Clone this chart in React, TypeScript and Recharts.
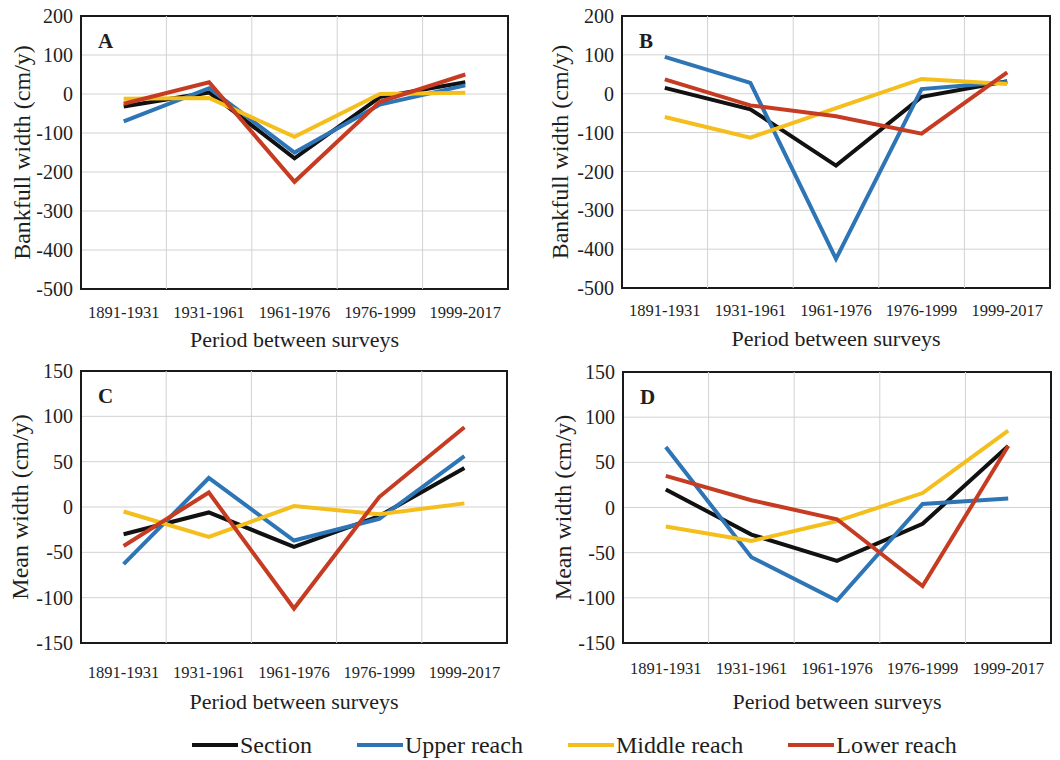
import { LineChart, Line, XAxis, YAxis, CartesianGrid, ReferenceLine, ReferenceArea } from 'recharts';

const PERIODS = ['1891-1931', '1931-1961', '1961-1976', '1976-1999', '1999-2017'];

// Bankfull width change rate (cm/y)
const bankfullSectionA = [-32, 4, -165, -8, 30];
const bankfullUpperA = [-70, 15, -150, -27, 22];
const bankfullMiddleA = [-12, -10, -110, 0, 3];
const bankfullLowerA = [-25, 30, -225, -20, 50];

const bankfullSectionB = [15, -40, -185, -8, 32];
const bankfullUpperB = [95, 28, -425, 12, 30];
const bankfullMiddleB = [-60, -113, -37, 38, 25];
const bankfullLowerB = [37, -30, -58, -103, 55];

// Mean width change rate (cm/y)
const meanSectionC = [-30, -6, -44, -10, 43];
const meanUpperC = [-63, 32, -37, -13, 56];
const meanMiddleC = [-5, -33, 1, -8, 4];
const meanLowerC = [-43, 16, -112, 11, 88];

const meanSectionD = [20, -30, -59, -18, 68];
const meanUpperD = [67, -55, -103, 4, 10];
const meanMiddleD = [-21, -37, -15, 16, 85];
const meanLowerD = [35, 8, -13, -87, 68];

const BANKFULL_TICKS = [-500, -400, -300, -200, -100, 0, 100, 200];
const MEAN_TICKS = [-150, -100, -50, 0, 50, 100, 150];

const SERIES = [
    { key: 'section', name: 'Section', color: '#111111' },
    { key: 'upper', name: 'Upper reach', color: '#2e75b6' },
    { key: 'middle', name: 'Middle reach', color: '#f4be1c' },
    { key: 'lower', name: 'Lower reach', color: '#c63c22' },
];

const FONT = '"Liberation Serif", "Times New Roman", serif';
const GRID = '#d2d2d2';
const TEXT = '#1e1e1e';

// category boundaries sit halfway between the periods
const BOUNDARIES = PERIODS.slice(1).map((_, i) => i + 0.5);

function buildRows(section: number[], upper: number[], middle: number[], lower: number[]) {
    return PERIODS.map((period, idx) => ({
        idx,
        period,
        section: section[idx],
        upper: upper[idx],
        middle: middle[idx],
        lower: lower[idx],
    }));
}

interface PanelProps {
    letter: string;
    rows: any[];
    yTitle: string;
    yTicks: number[];
    left: number;
    top: number;
    height: number;
    margin: { top: number; right: number; bottom: number; left: number };
    yAxisWidth: number;
    yTitleOffset: number;
    xAxisHeight: number;
    xTickGap: number;
}

function Panel({ letter, rows, yTitle, yTicks, left, top, height, margin, yAxisWidth, yTitleOffset, xAxisHeight, xTickGap }: PanelProps) {
    const yMin = yTicks[0];
    const yMax = yTicks[yTicks.length - 1];

    return (
        <div style={{ position: 'absolute', left, top }}>
            <LineChart width={530} height={height} data={rows} margin={margin}>
                <CartesianGrid vertical={false} stroke={GRID} strokeWidth={1} />
                {BOUNDARIES.map((b) => (
                    <ReferenceLine key={b} x={b} stroke={GRID} strokeWidth={1} />
                ))}
                <XAxis
                    type="number"
                    dataKey="idx"
                    domain={[-0.5, 4.5]}
                    ticks={[0, 1, 2, 3, 4]}
                    interval={0}
                    tickFormatter={(v: number) => PERIODS[v]}
                    axisLine={false}
                    tickLine={false}
                    tickSize={0}
                    tickMargin={xTickGap}
                    height={xAxisHeight}
                    tick={{ fontSize: 16.5, fill: TEXT, fontFamily: FONT }}
                    label={{
                        value: 'Period between surveys',
                        position: 'insideBottom',
                        offset: 2,
                        fontSize: 22,
                        fill: TEXT,
                        fontFamily: FONT,
                    }}
                />
                <YAxis
                    type="number"
                    domain={[yMin, yMax]}
                    ticks={yTicks}
                    interval={0}
                    axisLine={false}
                    tickLine={false}
                    tickSize={0}
                    tickMargin={8}
                    width={yAxisWidth}
                    tick={{ fontSize: 20, fill: TEXT, fontFamily: FONT }}
                    label={{
                        value: yTitle,
                        angle: -90,
                        position: 'insideLeft',
                        offset: yTitleOffset,
                        fontSize: 24,
                        fill: TEXT,
                        fontFamily: FONT,
                        style: { textAnchor: 'middle' },
                    }}
                />
                {SERIES.map((s) => (
                    <Line
                        key={s.key}
                        type="linear"
                        dataKey={s.key}
                        name={s.name}
                        stroke={s.color}
                        strokeWidth={4}
                        dot={false}
                        activeDot={false}
                        isAnimationActive={false}
                    />
                ))}
                {/* plot frame with the panel letter */}
                <ReferenceArea
                    x1={-0.5}
                    x2={4.5}
                    y1={yMin}
                    y2={yMax}
                    fill="none"
                    fillOpacity={0}
                    stroke="#1a1a1a"
                    strokeWidth={2}
                    label={{
                        value: letter,
                        position: 'insideTopLeft',
                        offset: 17,
                        fontSize: 21,
                        fontWeight: 'bold',
                        fill: TEXT,
                        fontFamily: FONT,
                    }}
                />
            </LineChart>
        </div>
    );
}

function LegendRow() {
    return (
        <div
            style={{
                position: 'absolute',
                left: 0,
                top: 731,
                width: 1060,
                display: 'flex',
                alignItems: 'center',
                gap: 45,
                paddingLeft: 192,
                boxSizing: 'border-box',
                fontFamily: FONT,
                fontSize: 24,
                color: TEXT,
                lineHeight: '28px',
            }}
        >
            {SERIES.map((s) => (
                <div key={s.key} style={{ display: 'flex', alignItems: 'center' }}>
                    <svg width={46} height={6} style={{ marginRight: 2 }}>
                        <line x1={0} y1={3} x2={46} y2={3} stroke={s.color} strokeWidth={4} />
                    </svg>
                    <span>{s.name}</span>
                </div>
            ))}
        </div>
    );
}

export default function App() {
    const rowsA = buildRows(bankfullSectionA, bankfullUpperA, bankfullMiddleA, bankfullLowerA);
    const rowsB = buildRows(bankfullSectionB, bankfullUpperB, bankfullMiddleB, bankfullLowerB);
    const rowsC = buildRows(meanSectionC, meanUpperC, meanMiddleC, meanLowerC);
    const rowsD = buildRows(meanSectionD, meanUpperD, meanMiddleD, meanLowerD);

    return (
        <div style={{ position: 'absolute', left: 0, top: 0, width: 1060, height: 760, background: '#fff', fontFamily: FONT }}>
            <Panel
                letter="A"
                rows={rowsA}
                yTitle="Bankfull width (cm/y)"
                yTicks={BANKFULL_TICKS}
                left={0}
                top={0}
                height={355}
                margin={{ top: 16, right: 22, bottom: 6, left: 0 }}
                yAxisWidth={81}
                yTitleOffset={21}
                xAxisHeight={60}
                xTickGap={17}
            />
            <Panel
                letter="B"
                rows={rowsB}
                yTitle="Bankfull width (cm/y)"
                yTicks={BANKFULL_TICKS}
                left={530}
                top={0}
                height={355}
                margin={{ top: 16, right: 10, bottom: 7, left: 0 }}
                yAxisWidth={92}
                yTitleOffset={29}
                xAxisHeight={60}
                xTickGap={16}
            />
            <Panel
                letter="C"
                rows={rowsC}
                yTitle="Mean width (cm/y)"
                yTicks={MEAN_TICKS}
                left={0}
                top={355}
                height={360}
                margin={{ top: 16, right: 23, bottom: 4, left: 0 }}
                yAxisWidth={81}
                yTitleOffset={19}
                xAxisHeight={68}
                xTickGap={23}
            />
            <Panel
                letter="D"
                rows={rowsD}
                yTitle="Mean width (cm/y)"
                yTicks={MEAN_TICKS}
                left={530}
                top={355}
                height={360}
                margin={{ top: 17, right: 9, bottom: 4, left: 0 }}
                yAxisWidth={93}
                yTitleOffset={32}
                xAxisHeight={68}
                xTickGap={19}
            />
            <LegendRow />
        </div>
    );
}
